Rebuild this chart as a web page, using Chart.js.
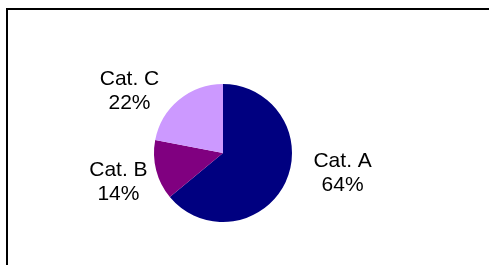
<!DOCTYPE html>
<html>
<head>
<meta charset="utf-8">
<script src="https://cdn.jsdelivr.net/npm/chart.js@4/dist/chart.umd.min.js"></script>
<style>
	html, body { margin: 0; padding: 0; background: #fff; overflow: hidden; }
	#chart { display: block; }
</style>
</head>
<body>
<canvas id="chart" width="489" height="265"></canvas>
<script>
const categories = ['Cat. A', 'Cat. B', 'Cat. C']
const values = [64, 14, 22]
const sliceColors = ['#000080', '#800080', '#CC99FF']

// frame round the plot (only top and left edges show in the window)
const framePlugin = {
	id: 'frame',
	beforeDraw(chart) {
		const ctx = chart.ctx
		ctx.save()
		ctx.strokeStyle = '#000'
		ctx.lineWidth = 2
		ctx.strokeRect(7, 9, 700, 500)
		ctx.restore()
	},
}

// labels outside each slice: name on the first line, percent below
const outsideLabels = {
	id: 'outsideLabels',
	afterDatasetsDraw(chart, args, opts) {
		const ctx = chart.ctx
		const meta = chart.getDatasetMeta(0)
		const data = chart.data.datasets[0].data
		const total = data.reduce((a, b) => a + b, 0)
		ctx.save()
		ctx.fillStyle = '#000'
		ctx.font = '21px "Liberation Sans", Arial, sans-serif'
		ctx.textAlign = 'center'
		ctx.textBaseline = 'alphabetic'
		meta.data.forEach((arc, i) => {
			const mid = (arc.startAngle + arc.endAngle) / 2
			const r = arc.outerRadius + opts.gap
			const nudge = opts.nudge[i] || [0, 0]
			const x = arc.x + Math.cos(mid) * r + nudge[0]
			const y = arc.y + Math.sin(mid) * r + nudge[1]
			const pct = Math.round((data[i] / total) * 100) + '%'
			ctx.fillText(chart.data.labels[i], x, y - 12)
			ctx.fillText(pct, x, y + 12)
		})
		ctx.restore()
	},
}

new Chart(document.getElementById('chart'), {
	type: 'pie',
	data: {
		labels: categories,
		datasets: [
			{
				data: values,
				backgroundColor: sliceColors,
				borderWidth: 0,
			},
		],
	},
	options: {
		responsive: false,
		animation: false,
		layout: {
			padding: { left: 154, right: 197, top: 84, bottom: 43 },
		},
		plugins: {
			legend: { display: false },
			tooltip: { enabled: false },
			outsideLabels: {
				gap: 40,
				nudge: [
					[21, -20],
					[1, 8],
					[-24, 28],
				],
			},
		},
	},
	plugins: [framePlugin, outsideLabels],
})
</script>
</body>
</html>
